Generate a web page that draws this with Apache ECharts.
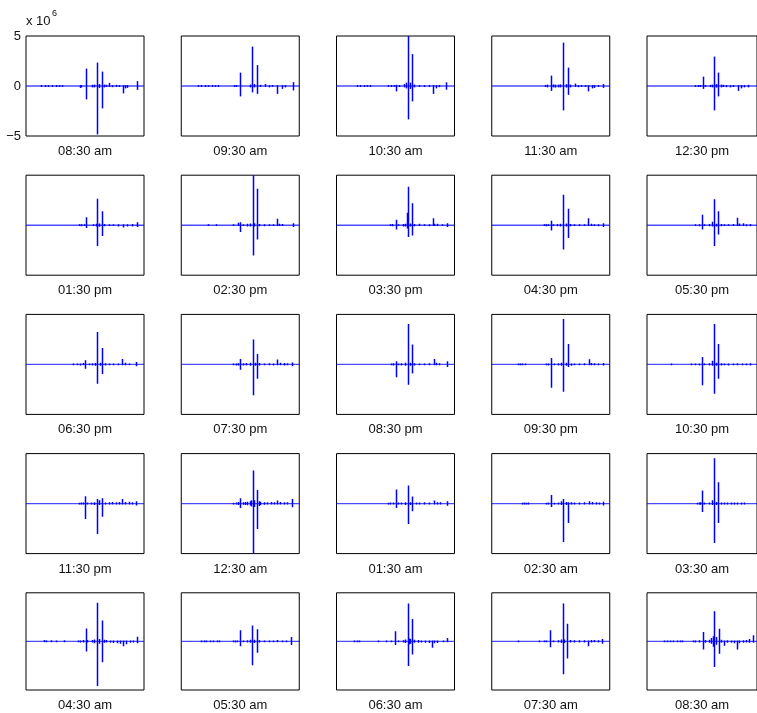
<!DOCTYPE html>
<html>
<head>
<meta charset="utf-8">
<script src="https://cdn.jsdelivr.net/npm/echarts@6/dist/echarts.min.js"></script>
<style>
  html, body { margin: 0; padding: 0; background: #fff; }
  #chart { width: 757px; height: 713px; }
</style>
</head>
<body>
<div id="chart"></div>
<script>
// Hourly waveform snapshots, one panel per hour.
const panelTimes = [
  '08:30 am', '09:30 am', '10:30 am', '11:30 am', '12:30 pm',
  '01:30 pm', '02:30 pm', '03:30 pm', '04:30 pm', '05:30 pm',
  '06:30 pm', '07:30 pm', '08:30 pm', '09:30 pm', '10:30 pm',
  '11:30 pm', '12:30 am', '01:30 am', '02:30 am', '03:30 am',
  '04:30 am', '05:30 am', '06:30 am', '07:30 am', '08:30 am'
];

// y-axis ticks of the first panel (units of 10^6)
const yTicks = [-5, 0, 5];

// Each trace: list of [sample position (0-100), peak high, peak low] in units of 10^6
const trace01 = [[13,0.06,-0.05],[16,0.05,-0.06],[19,0.06,-0.05],[22,0.05,-0.05],[25,0.06,-0.06],[28,0.05,-0.05],[30.5,0.06,-0.05],[45.5,0.05,-0.15],[47,0.04,-0.1],[50.6,1.7,-1.3],[56,0.08,-0.1],[58,0.1,-0.1],[60.5,2.3,-4.8],[62,0.15,-0.15],[64.2,1.4,-2.2],[66,0.1,-0.1],[68,0.08,-0.05],[70.5,0.27,-0.05],[73,0.05,-0.08],[76,0.08,-0.05],[79,0.05,-0.06],[82.4,0.05,-0.7],[84,0.04,-0.2],[86,0.05,-0.15],[93.8,0.45,-0.35]];
const trace02 = [[14,0.05,-0.05],[17,0.06,-0.05],[20,0.05,-0.06],[23,0.05,-0.05],[26,0.06,-0.05],[29,0.05,-0.05],[31,0.05,-0.05],[44.5,0.05,-0.05],[46.5,0.06,-0.05],[49.7,1.3,-1.0],[58,0.1,-0.1],[60.2,3.9,-0.6],[62,0.15,-0.1],[64.2,2.05,-0.75],[66.5,0.08,-0.05],[70.7,0.15,-0.05],[74,0.05,-0.1],[77,0.06,-0.05],[81.5,0.05,-0.75],[85,0.05,-0.25],[88,0.05,-0.1],[94.3,0.35,-0.4]];
const trace03 = [[17,0.05,-0.05],[20,0.06,-0.05],[23,0.05,-0.06],[26,0.05,-0.05],[28.5,0.06,-0.05],[44,0.05,-0.05],[46.5,0.06,-0.06],[48.5,0.05,-0.05],[50.3,0.08,-0.5],[53,0.06,-0.05],[57,0.15,-0.1],[59,0.3,-0.2],[60.5,5.3,-3.3],[62.2,0.3,-0.25],[63.8,3.15,-1.5],[66,0.1,-0.1],[70,0.06,-0.05],[74,0.05,-0.06],[78,0.06,-0.05],[81.4,0.05,-0.75],[84,0.05,-0.2],[87,0.05,-0.08],[93.2,0.33,-0.33]];
const trace04 = [[45,0.06,-0.06],[47,0.1,-0.1],[50,1.0,-0.45],[52,0.12,-0.1],[54,0.1,-0.12],[56,0.1,-0.1],[58,0.12,-0.1],[60.5,4.3,-2.4],[62.5,0.15,-0.12],[64.5,1.8,-0.85],[66.5,0.1,-0.1],[70.7,0.2,-0.05],[73,0.05,-0.08],[76,0.06,-0.05],[79,0.05,-0.06],[81.5,0.05,-0.5],[85,0.05,-0.2],[87,0.05,-0.15],[90,0.05,-0.06],[94.3,0.15,-0.15]];
const trace05 = [[44,0.05,-0.05],[46,0.06,-0.06],[48,0.06,-0.05],[50.9,0.9,-0.25],[53,0.06,-0.05],[57,0.08,-0.06],[59,0.1,-0.1],[61.1,2.9,-2.4],[63,0.15,-0.12],[64.8,1.3,-1.0],[67,0.1,-0.1],[69,0.08,-0.06],[72,0.06,-0.08],[75,0.05,-0.1],[78,0.06,-0.06],[82.7,0.05,-0.45],[85,0.05,-0.2],[88,0.05,-0.1],[92,0.08,-0.1]];
const trace06 = [[45,0.05,-0.05],[47,0.06,-0.06],[49,0.05,-0.05],[50.6,0.75,-0.25],[57,0.06,-0.05],[59,0.1,-0.1],[60.5,2.6,-2.05],[62,0.12,-0.12],[64.2,1.35,-1.05],[66,0.08,-0.06],[70,0.05,-0.05],[74,0.06,-0.05],[78,0.06,-0.08],[82.4,0.05,-0.2],[86,0.06,-0.1],[90,0.08,-0.08],[93.8,0.25,-0.15]];
const trace07 = [[23,0.05,-0.04],[29.5,0.05,-0.04],[44,0.06,-0.05],[48,0.2,-0.05],[49.7,0.25,-0.65],[52,0.05,-0.05],[56,0.1,-0.08],[58,0.12,-0.1],[60.5,5.2,-3.0],[61.8,0.15,-0.1],[64.2,3.6,-1.4],[66,0.08,-0.06],[70,0.06,-0.06],[74,0.06,-0.05],[78,0.06,-0.05],[81.5,0.6,-0.05],[83,0.1,-0.05],[85,0.08,-0.05],[94.3,0.15,-0.15]];
const trace08 = [[45,0.05,-0.05],[47,0.08,-0.06],[50,0.5,-0.4],[52,0.06,-0.05],[56,0.08,-0.08],[58,0.1,-0.1],[59.8,1.2,-0.3],[60.5,3.8,-1.15],[62.3,0.12,-0.1],[64.1,2.15,-1.0],[66,0.08,-0.06],[70,0.1,-0.05],[74,0.06,-0.05],[78,0.06,-0.06],[81.4,0.65,-0.05],[83,0.1,-0.05],[85.5,0.1,-0.05],[89,0.06,-0.05],[93.8,0.15,-0.15]];
const trace09 = [[44,0.05,-0.05],[46,0.06,-0.06],[48,0.06,-0.05],[50,0.4,-0.5],[52,0.06,-0.05],[55,0.08,-0.06],[58,0.1,-0.1],[60.5,3.0,-2.4],[62.5,0.12,-0.1],[64.5,1.6,-1.25],[66.5,0.08,-0.06],[70,0.06,-0.05],[74,0.06,-0.05],[78,0.06,-0.05],[81.8,0.65,-0.05],[84,0.1,-0.05],[87,0.06,-0.05],[90,0.06,-0.06],[94.3,0.15,-0.15]];
const trace10 = [[44,0.05,-0.05],[47,0.06,-0.06],[50.3,1.0,-0.4],[52,0.06,-0.05],[56,0.08,-0.06],[59.5,0.3,-0.1],[60.8,2.55,-2.05],[62.5,0.1,-0.1],[64.8,1.35,-0.9],[67,0.08,-0.06],[70,0.06,-0.05],[74,0.06,-0.05],[78,0.08,-0.05],[82,0.7,-0.05],[84,0.12,-0.05],[87,0.15,-0.05],[90,0.06,-0.06],[94,0.08,-0.06]];
const trace11 = [[40,0.05,-0.05],[43,0.06,-0.05],[46,0.06,-0.06],[48,0.1,-0.05],[50,0.37,-0.4],[53,0.06,-0.05],[56,0.08,-0.06],[58.5,0.1,-0.1],[60.4,3.2,-1.9],[62.5,0.12,-0.1],[64.4,1.6,-0.93],[67,0.08,-0.06],[70,0.06,-0.05],[74,0.06,-0.05],[78,0.06,-0.05],[81.6,0.5,-0.05],[84,0.12,-0.05],[87,0.06,-0.05],[93.6,0.2,-0.15]];
const trace12 = [[44,0.05,-0.05],[46,0.06,-0.06],[48,0.08,-0.06],[50.2,0.5,-0.5],[52,0.08,-0.06],[55,0.1,-0.08],[58,0.12,-0.1],[60.6,2.45,-3.05],[62.3,0.12,-0.1],[64.1,1.0,-1.4],[66,0.1,-0.06],[70,0.06,-0.05],[74,0.08,-0.05],[78,0.06,-0.06],[81.3,0.45,-0.05],[84,0.12,-0.05],[87,0.1,-0.06],[90,0.08,-0.05],[94,0.15,-0.15]];
const trace13 = [[46,0.05,-0.05],[48,0.08,-0.06],[50.4,0.27,-1.25],[52,0.06,-0.05],[55,0.08,-0.06],[58,0.12,-0.1],[60.8,4.0,-2.0],[62.5,0.12,-0.1],[64.4,1.95,-0.87],[66,0.08,-0.06],[70,0.06,-0.05],[74,0.06,-0.05],[78,0.08,-0.05],[82.4,0.5,-0.05],[84,0.12,-0.05],[87,0.08,-0.05],[93.6,0.27,-0.23]];
const trace14 = [[22,0.05,-0.05],[24,0.06,-0.05],[26,0.05,-0.05],[28,0.06,-0.05],[46,0.05,-0.05],[48,0.06,-0.06],[50.4,0.6,-2.3],[52.5,0.06,-0.05],[56,0.08,-0.06],[58.5,0.12,-0.1],[60.8,4.5,-2.7],[62.5,0.12,-0.1],[64.8,2.0,-0.23],[67,0.05,-0.1],[70,0.06,-0.05],[74,0.06,-0.05],[78,0.08,-0.05],[82.4,0.47,-0.05],[84,0.1,-0.05],[87,0.08,-0.05],[90,0.06,-0.05],[94.4,0.1,-0.08]];
const trace15 = [[21.6,0.05,-0.05],[40,0.05,-0.05],[44,0.06,-0.05],[47,0.06,-0.06],[50.4,0.7,-2.05],[52,0.06,-0.05],[56,0.08,-0.06],[59.5,0.33,-0.1],[60.8,4.0,-2.9],[62.5,0.12,-0.1],[64.8,2.0,-1.4],[67,0.08,-0.06],[70,0.06,-0.05],[74,0.06,-0.06],[78,0.06,-0.05],[82,0.08,-0.05],[86,0.06,-0.05],[90,0.06,-0.05],[94,0.08,-0.06]];
const trace16 = [[44.5,0.05,-0.05],[46.5,0.06,-0.06],[48,0.08,-0.05],[50,0.7,-1.5],[52,0.06,-0.05],[55,0.08,-0.06],[58,0.1,-0.1],[60.4,0.43,-3.0],[61.5,0.3,-0.1],[64.4,0.5,-1.27],[67,0.08,-0.06],[70,0.1,-0.05],[73,0.12,-0.05],[76,0.1,-0.05],[78.5,0.12,-0.06],[81.6,0.43,-0.05],[84,0.12,-0.05],[87,0.15,-0.05],[90,0.1,-0.05],[93.6,0.2,-0.15]];
const trace17 = [[44,0.05,-0.05],[46,0.08,-0.06],[48,0.12,-0.1],[50.2,0.5,-0.4],[52,0.1,-0.08],[54,0.12,-0.1],[56,0.15,-0.12],[58,0.2,-0.15],[59.5,0.3,-0.25],[60.6,3.27,-5.2],[62,0.3,-0.3],[64.1,1.33,-2.5],[65.5,0.2,-0.2],[67,0.15,-0.1],[70,0.1,-0.08],[73,0.1,-0.06],[76,0.12,-0.06],[79,0.1,-0.06],[81.3,0.27,-0.05],[84,0.12,-0.06],[87,0.1,-0.06],[90,0.1,-0.06],[94,0.43,-0.33]];
const trace18 = [[44,0.05,-0.05],[45.5,0.08,-0.06],[48,0.06,-0.05],[50.4,1.37,-0.4],[52,0.06,-0.05],[55,0.08,-0.06],[58,0.1,-0.1],[60.8,1.77,-2.0],[62.5,0.1,-0.1],[64.4,0.67,-0.73],[67,0.08,-0.06],[70,0.06,-0.05],[74,0.1,-0.05],[78,0.06,-0.05],[82.4,0.27,-0.05],[85,0.1,-0.05],[88,0.1,-0.05],[93.6,0.2,-0.17]];
const trace19 = [[26,0.05,-0.05],[27.5,0.06,-0.05],[29,0.05,-0.05],[31,0.06,-0.05],[46,0.05,-0.05],[48,0.06,-0.05],[50.4,0.83,-0.3],[52.5,0.05,-0.05],[56,0.06,-0.05],[59,0.2,-0.1],[60.8,0.43,-3.8],[62.5,0.12,-0.1],[64.8,0.1,-1.9],[67,0.1,-0.06],[70,0.08,-0.05],[74,0.08,-0.05],[78,0.1,-0.05],[82.4,0.2,-0.05],[85,0.12,-0.05],[88,0.1,-0.05],[91,0.08,-0.05],[94.4,0.15,-0.15]];
const trace20 = [[45,0.05,-0.05],[47,0.08,-0.06],[48.5,0.1,-0.08],[50.4,1.27,-0.8],[52,0.06,-0.05],[56,0.08,-0.06],[59.5,0.3,-0.1],[60.8,4.5,-3.9],[62.5,0.12,-0.1],[64.8,2.1,-1.9],[67,0.08,-0.06],[70,0.06,-0.06],[73,0.06,-0.05],[76,0.06,-0.06],[79,0.06,-0.05],[82,0.06,-0.06],[85,0.06,-0.05],[88,0.06,-0.06]];
const trace21 = [[15.6,0.1,-0.05],[17,0.06,-0.05],[21,0.08,-0.05],[25,0.05,-0.05],[32.4,0.08,-0.05],[44,0.05,-0.05],[46,0.06,-0.06],[48,0.1,-0.08],[50.6,1.28,-1.0],[52,0.1,-0.08],[56,0.1,-0.08],[58,0.15,-0.15],[60.5,3.94,-4.55],[62,0.2,-0.2],[64.2,2.1,-2.1],[66,0.12,-0.1],[68,0.1,-0.08],[71,0.06,-0.1],[74,0.05,-0.12],[77,0.05,-0.15],[80,0.05,-0.2],[82.4,0.05,-0.45],[85,0.05,-0.25],[88,0.06,-0.1],[91,0.06,-0.06],[93.8,0.45,-0.15]];
const trace22 = [[17,0.06,-0.05],[19,0.05,-0.05],[21,0.06,-0.05],[24,0.05,-0.05],[27,0.06,-0.05],[30,0.05,-0.05],[32,0.06,-0.05],[43.5,0.05,-0.05],[45.5,0.06,-0.06],[47,0.06,-0.05],[50,1.1,-0.47],[52,0.06,-0.05],[56,0.08,-0.06],[58.5,0.12,-0.1],[60.2,1.6,-2.4],[62,0.12,-0.12],[64,1.2,-1.13],[66,0.08,-0.06],[70,0.06,-0.05],[74,0.06,-0.05],[78,0.06,-0.05],[81.5,0.1,-0.05],[85,0.06,-0.05],[89,0.06,-0.05],[93.3,0.4,-0.33]];
const trace23 = [[15,0.06,-0.05],[17,0.05,-0.05],[19,0.06,-0.05],[35,0.04,-0.04],[42,0.05,-0.04],[46,0.06,-0.05],[49.7,1.0,-0.33],[52,0.06,-0.05],[56,0.08,-0.06],[58,0.15,-0.12],[60.2,3.87,-2.5],[61.5,0.25,-0.25],[62.5,0.2,-0.2],[64.3,2.27,-1.3],[66,0.12,-0.1],[69,0.1,-0.1],[72,0.06,-0.08],[75,0.05,-0.1],[78,0.05,-0.12],[80.9,0.05,-0.6],[83,0.05,-0.15],[85.5,0.05,-0.12],[90,0.06,-0.05],[93.6,0.3,-0.05]];
const trace24 = [[22,0.04,-0.04],[40,0.05,-0.04],[44,0.05,-0.05],[46,0.06,-0.05],[49.7,1.1,-0.57],[52,0.06,-0.05],[56,0.08,-0.06],[58.5,0.15,-0.12],[60.2,3.87,-3.33],[61.5,0.15,-0.12],[64,1.77,-1.73],[66,0.1,-0.08],[70,0.08,-0.06],[74,0.08,-0.06],[78,0.08,-0.06],[81.2,0.05,-0.47],[84,0.1,-0.06],[87,0.1,-0.05],[90,0.08,-0.06],[93.6,0.2,-0.2]];
const trace25 = [[15,0.06,-0.05],[18,0.05,-0.05],[21,0.06,-0.05],[24,0.05,-0.05],[27,0.06,-0.05],[30,0.05,-0.05],[32,0.06,-0.05],[42,0.06,-0.05],[44,0.06,-0.06],[47,0.08,-0.06],[50.6,0.93,-0.8],[53,0.1,-0.1],[56,0.12,-0.1],[58.5,0.3,-0.2],[60,0.5,-0.5],[61.1,3.07,-2.6],[62.5,0.4,-0.3],[65,1.27,-1.23],[67,0.12,-0.1],[70.4,0.05,-0.4],[73,0.08,-0.1],[76,0.06,-0.1],[79,0.05,-0.15],[81.8,0.05,-0.8],[84,0.06,-0.15],[87,0.08,-0.1],[90,0.1,-0.08],[93,0.2,-0.1],[96,0.6,-0.1]];

const traces = [
  trace01, trace02, trace03, trace04, trace05,
  trace06, trace07, trace08, trace09, trace10,
  trace11, trace12, trace13, trace14, trace15,
  trace16, trace17, trace18, trace19, trace20,
  trace21, trace22, trace23, trace24, trace25
];

// Flat signal level between the peaks
const baseline = [[0, 0], [100, 0]];

// Panel layout
const COLS = 5;
const PANEL_LEFT = 26, PANEL_TOP = 36;
const PANEL_W = 118, PANEL_H = 100;
const STEP_X = 155.25, STEP_Y = 139.2;
const FONT = '"Liberation Sans", Arial, Helvetica, sans-serif';
const TRACE_COLOR = '#0000ff';

// One vertical stroke per peak, from its low to its high value
function renderPeak(params, api) {
  const x = api.value(0);
  const top = api.coord([x, api.value(1)]);
  const bottom = api.coord([x, api.value(2)]);
  const px = Math.round(top[0]) + 0.5;
  return {
    type: 'line',
    shape: { x1: px, y1: top[1] - 0.4, x2: px, y2: bottom[1] + 0.4 },
    style: { stroke: TRACE_COLOR, lineWidth: 1.5 }
  };
}

const grid = [], xAxis = [], yAxis = [], series = [];
traces.forEach((peaks, i) => {
  const r = Math.floor(i / COLS), c = i % COLS;
  grid.push({
    left: PANEL_LEFT + c * STEP_X,
    top: PANEL_TOP + r * STEP_Y,
    width: PANEL_W,
    height: PANEL_H,
    show: true,
    borderColor: '#000',
    borderWidth: 1,
    backgroundColor: '#fff'
  });
  xAxis.push({
    type: 'value', gridIndex: i, min: 0, max: 100,
    axisLine: { show: false }, axisTick: { show: false },
    axisLabel: { show: false }, splitLine: { show: false },
    name: panelTimes[i], nameLocation: 'middle', nameGap: 9,
    nameTextStyle: { fontFamily: FONT, fontSize: 13, color: '#111' }
  });
  yAxis.push({
    type: 'value', gridIndex: i, min: yTicks[0], max: yTicks[yTicks.length - 1], interval: 5,
    axisLine: { show: false }, axisTick: { show: false }, splitLine: { show: false },
    axisLabel: {
      show: i === 0, margin: 5, fontFamily: FONT, fontSize: 13, color: '#111',
      formatter: v => (v < 0 ? '\u2212' + Math.abs(v) : String(v))
    }
  });
  series.push({
    type: 'line', xAxisIndex: i, yAxisIndex: i,
    data: baseline,
    showSymbol: false, symbol: 'none', animation: false, silent: true,
    lineStyle: { color: TRACE_COLOR, width: 1.4, opacity: 0.7 }
  });
  series.push({
    type: 'custom', xAxisIndex: i, yAxisIndex: i,
    data: peaks,
    encode: { x: 0, y: [1, 2] },
    renderItem: renderPeak,
    clip: true, animation: false, silent: true
  });
});

const chart = echarts.init(document.getElementById('chart'), null, { renderer: 'canvas' });
chart.setOption({
  animation: false,
  backgroundColor: '#fff',
  grid, xAxis, yAxis, series,
  graphic: [
    { type: 'text', left: 26, top: 15, style: { text: 'x 10', font: '13px ' + FONT, fill: '#111' } },
    { type: 'text', left: 52, top: 9, style: { text: '6', font: '9px ' + FONT, fill: '#111' } }
  ]
});
</script>
</body>
</html>
